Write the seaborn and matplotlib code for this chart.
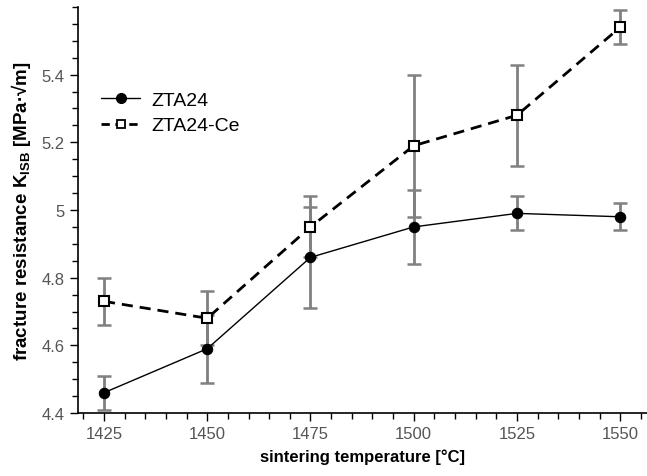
import matplotlib
matplotlib.use("Agg")
import matplotlib.pyplot as plt
import seaborn as sns
import pandas as pd
from matplotlib.ticker import MultipleLocator
from matplotlib.lines import Line2D

temps = [1425, 1450, 1475, 1500, 1525, 1550]
zta24 = [4.46, 4.59, 4.86, 4.95, 4.99, 4.98]
zta24_err = [0.05, 0.10, 0.15, 0.11, 0.05, 0.04]
zta24ce = [4.73, 4.68, 4.95, 5.19, 5.28, 5.54]
zta24ce_err = [0.07, 0.08, 0.09, 0.21, 0.15, 0.05]
series_names = ["ZTA24", "ZTA24-Ce"]
ytick_vals = [4.4, 4.6, 4.8, 5.0, 5.2, 5.4]
ytick_labels = ["4.4", "4.6", "4.8", "5", "5.2", "5.4"]

sns.set_theme(style="ticks")
plt.rcParams['font.family'] = ['Liberation Sans', 'DejaVu Sans']
plt.rcParams['mathtext.fontset'] = 'custom'
plt.rcParams['mathtext.rm'] = 'Liberation Sans'
plt.rcParams['mathtext.bf'] = 'Liberation Sans:bold'

df = pd.DataFrame({
    "T": temps * 2,
    "K": zta24 + zta24ce,
    "s": [series_names[0]] * len(temps) + [series_names[1]] * len(temps),
})

fig = plt.figure(figsize=(6.47, 4.77), dpi=100)
ax = fig.add_axes([78/647, 1 - 414/477, 1 - 78/647, (414 - 8)/477])

ecol = "#808080"
ax.errorbar(temps, zta24, yerr=zta24_err, fmt="none", ecolor=ecol, elinewidth=2.0, capsize=5, capthick=1.8, zorder=1)
ax.errorbar(temps, zta24ce, yerr=zta24ce_err, fmt="none", ecolor=ecol, elinewidth=2.0, capsize=5, capthick=1.8, zorder=1)

sns.lineplot(data=df, x="T", y="K", hue="s", style="s",
             palette=["black", "black"], markers={"ZTA24": "o", "ZTA24-Ce": "s"},
             dashes={"ZTA24": "", "ZTA24-Ce": (4, 2.5)}, ax=ax, legend=False, zorder=3)
lines = ax.get_lines()
l1, l2 = lines[-2], lines[-1]
l1.set_linewidth(1.0); l1.set_markersize(7.5); l1.set_markerfacecolor("black"); l1.set_markeredgecolor("black")
l2.set_linewidth(2.0); l2.set_markersize(7); l2.set_markerfacecolor("white"); l2.set_markeredgecolor("black"); l2.set_markeredgewidth(1.5)

h1 = Line2D([], [], color="black", lw=1.0, marker="o", markersize=7, markerfacecolor="black")
h2 = Line2D([], [], color="black", lw=2.0, ls=(0, (3, 2)), marker="s", markersize=6,
            markerfacecolor="white", markeredgecolor="black", markeredgewidth=1.3)
leg = ax.legend([h1, h2], series_names, loc="upper left", bbox_to_anchor=(0.01, 0.835),
                frameon=False, fontsize=14, handlelength=2.0, labelspacing=0.4, handletextpad=0.6)
for t in leg.get_texts():
    t.set_color("black")

ax.set_xlim(1418.7, 1556.5)
ax.set_ylim(4.4, 5.6)
ax.xaxis.set_major_locator(MultipleLocator(25))
ax.xaxis.set_minor_locator(MultipleLocator(5))
ax.yaxis.set_minor_locator(MultipleLocator(0.05))
ax.set_yticks(ytick_vals)
ax.set_yticklabels(ytick_labels)
ax.tick_params(axis="both", which="major", direction="out", length=6, width=1, labelsize=12, labelcolor="#555555", color="black")
ax.tick_params(axis="both", which="minor", direction="out", length=4, width=1, color="black")

sns.despine(ax=ax)
for sp in ["left", "bottom"]:
    ax.spines[sp].set_color("black")
    ax.spines[sp].set_linewidth(1.2)

ax.set_xlabel("sintering temperature [°C]", fontsize=12, fontweight="bold", labelpad=5, color="black")
ax.set_ylabel(r"fracture resistance K$_\mathbf{ISB}$ [MPa·√m]", fontsize=13.5, fontweight="bold", labelpad=6, color="black")

fig.savefig("out.png", dpi=100)
